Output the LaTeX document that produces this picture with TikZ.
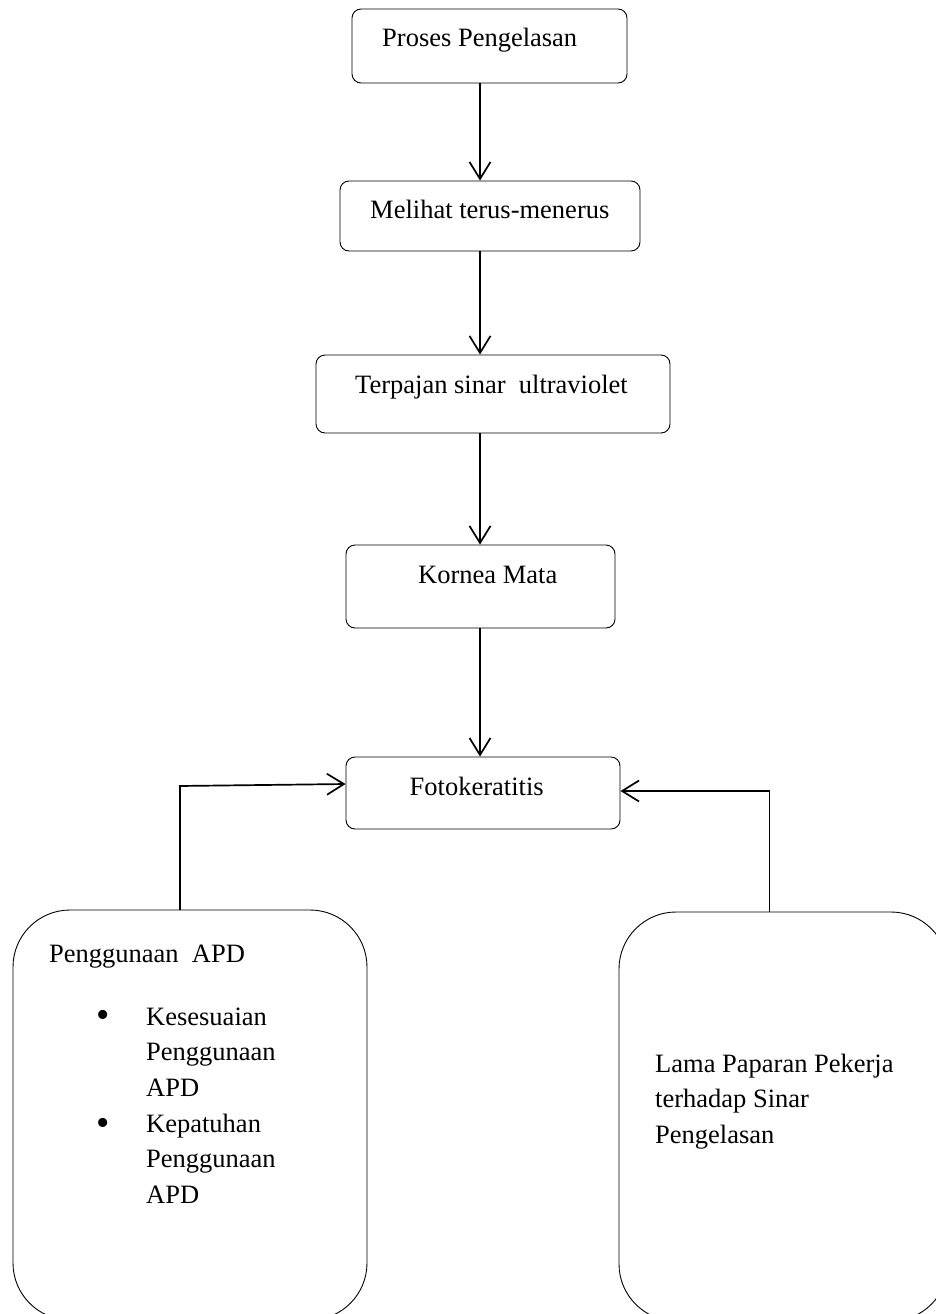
\documentclass[tikz,border=0pt]{standalone}
\usepackage{fontspec}
\setmainfont{Liberation Serif}
\usetikzlibrary{arrows.meta}
\tikzset{
  box/.style={draw, line width=0.9pt, rounded corners=9pt, inner sep=0pt},
  bigbox/.style={draw, line width=0.9pt, rounded corners=57pt, inner sep=0pt},
  txt/.style={inner sep=0pt, anchor=base west, align=left,
    font=\fontsize{26.5}{35.5}\selectfont},
  bul/.style={inner sep=0pt, anchor=center,
    font=\fontsize{38}{38}\selectfont},
  conn/.style={line width=1.7pt, -{Straight Barb[length=17pt,width=21pt,line width=1.7pt]}},
  plainconn/.style={line width=1.7pt}
}
\begin{document}
\begin{tikzpicture}[x=1pt,y=-1pt]
\useasboundingbox (0,0) rectangle (936,1314);
\clip (0,0) rectangle (936,1314);
\fill[white] (0,0) rectangle (936,1314);

% boxes
\node[box, minimum width=275pt, minimum height=74pt] (b1) at (489.5,46) {};
\node[box, minimum width=300pt, minimum height=70pt] (b2) at (490,216) {};
\node[box, minimum width=354pt, minimum height=78pt] (b3) at (493,394) {};
\node[box, minimum width=269pt, minimum height=83pt] (b4) at (480.5,586.5) {};
\node[box, minimum width=274pt, minimum height=72pt] (b5) at (483,793) {};
\node[bigbox, minimum width=354pt, minimum height=410pt] (bl) at (190,1115) {};
\node[bigbox, minimum width=329pt, minimum height=409pt] (br) at (783.5,1116.5) {};

% texts (multi-line nodes are anchored at the baseline of their last line)
\node[txt] (t1) at (382,47) {Proses Pengelasan};
\node[txt] (t2) at (370,218) {Melihat terus-menerus};
\node[txt] (t3) at (355,393) {Terpajan sinar\ \ ultraviolet};
\node[txt] (t4) at (418,583) {Kornea Mata};
\node[txt] (t5) at (409.5,795) {Fotokeratitis};
\node[txt] (tl) at (49,962) {Penggunaan\ \ APD};
\node[bul] (bu1) at (103,1019) {•};
\node[txt] (li1) at (146,1096) {Kesesuaian\\Penggunaan\\APD};
\node[bul] (bu2) at (103,1127) {•};
\node[txt] (li2) at (146,1203) {Kepatuhan\\Penggunaan\\APD};
\node[txt] (tr) at (655,1143) {Lama Paparan Pekerja\\terhadap Sinar\\Pengelasan};

% connectors
\coordinate (ax) at (480,0);
\draw[conn] (b1.south -| ax) -- (b2.north -| ax);
\draw[conn] (b2.south -| ax) -- (b3.north -| ax);
\draw[conn] (b3.south -| ax) -- (b4.north -| ax);
\draw[conn] (b4.south -| ax) -- (b5.north -| ax);

\coordinate (l1) at (180,786);
\draw[plainconn] (bl.north -| l1) -- (l1);
\draw[conn] ([xshift=-1pt]l1) -- ([yshift=9pt]b5.west);

\coordinate (r1) at (769.5,791);
\draw[plainconn] (br.north -| r1) -- ([yshift=-0.85pt]r1);
\draw[conn] ([xshift=0.85pt]r1) -- (r1 -| b5.east);
\end{tikzpicture}
\end{document}
